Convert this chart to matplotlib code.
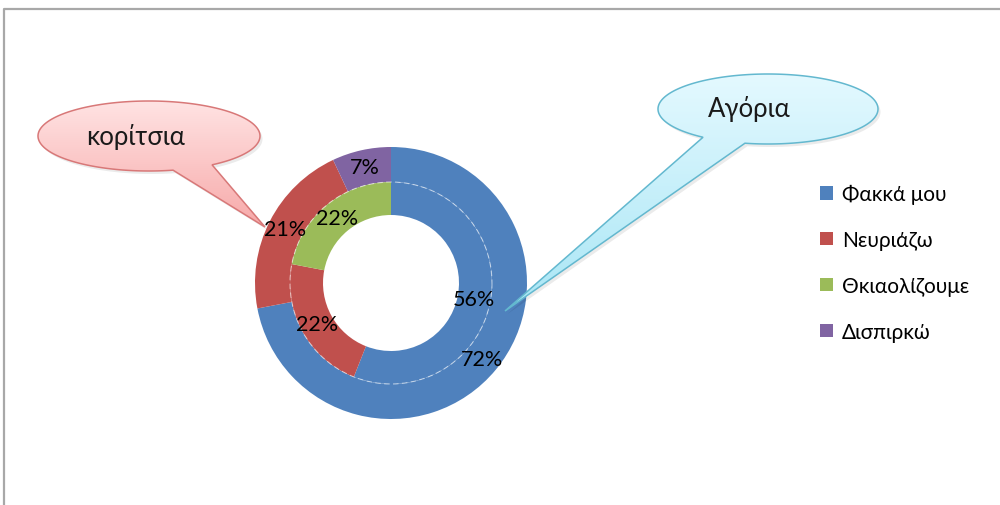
import numpy as np
import matplotlib
matplotlib.use("Agg")
import matplotlib.pyplot as plt
from matplotlib.patches import Polygon, Arc
from matplotlib.colors import LinearSegmentedColormap

# Data
categories = ["Φακκά μου", "Νευριάζω", "Θκιαολίζουμε", "Δισπιρκώ"]
outer_values = [72, 21, 0, 7]
inner_values = [56, 22, 22, 0]
colors = ["#4F81BD", "#C0504D", "#9BBB59", "#8064A2"]
callout_texts = ["κορίτσια", "Αγόρια"]

plt.rcParams["font.family"] = ["Lato", "Open Sans", "DejaVu Sans"]

fig = plt.figure(figsize=(10, 5.06), dpi=100)
ax = fig.add_axes([0, 0, 1, 1])

cx, cy = 391, 284
r_out, r_mid, r_in = 136, 101, 68


def pct(p):
    return f"{p:.0f}%" if p > 0.5 else ""


label_style = dict(fontsize=15.5, color="black")

wedges_out, _, texts_out = ax.pie(
    outer_values, radius=r_out, center=(cx, cy), startangle=-90,
    counterclock=True, colors=colors, autopct=pct,
    pctdistance=(r_out + r_mid) / 2 / r_out,
    wedgeprops=dict(width=r_out - r_mid, edgecolor="none", linewidth=0),
    textprops=label_style)
wedges_in, _, texts_in = ax.pie(
    inner_values, radius=r_mid, center=(cx, cy), startangle=-90,
    counterclock=True, colors=colors, autopct=pct,
    pctdistance=(r_mid + r_in) / 2 / r_mid,
    wedgeprops=dict(width=r_mid - r_in, edgecolor="none", linewidth=0),
    textprops=label_style)
for t in texts_out + texts_in:
    t.set_zorder(8)

# faint dashed seam between the two rings
ax.add_patch(Arc((cx, cy), 2 * r_mid, 2 * r_mid, color="white", alpha=0.55,
                 linewidth=0.8, linestyle=(0, (5, 3)), zorder=2))


def callout(ex, ey, a, b, t1, t2, tip, c_top, c_bot, edge, text, tx, ty):
    t = np.radians(np.linspace(t1, t2 + 360, 300))
    pts = np.column_stack([ex + a * np.cos(t), ey + b * np.sin(t)])
    pts = np.vstack([pts, tip])
    shadow = Polygon(pts + np.array([2.5, 3.0]), closed=True,
                     facecolor="#000000", alpha=0.08, edgecolor="none", zorder=3)
    ax.add_patch(shadow)
    poly = Polygon(pts, closed=True, facecolor="none", edgecolor=edge,
                   linewidth=1.1, zorder=6)
    ax.add_patch(poly)
    xs, ys = pts[:, 0], pts[:, 1]
    grad = np.linspace(0, 1, 256).reshape(-1, 1)
    cmap = LinearSegmentedColormap.from_list("fill", [c_top, c_bot])
    im = ax.imshow(grad, cmap=cmap, origin="upper", aspect="auto",
                   extent=(xs.min(), xs.max(), ys.max(), ys.min()),
                   interpolation="bilinear", zorder=5)
    im.set_clip_path(poly)
    ax.text(tx, ty, text, fontsize=18.5, ha="center", va="center",
            color="#1a1a1a", zorder=7)


callout(149, 137, 111, 35, 77.5, 55.4, (265, 228),
        "#FFE3E3", "#F7A9A9", "#D87878", callout_texts[0], 136, 137)
callout(768, 110, 110, 35, 126.2, 102.1, (505, 312),
        "#E4F9FF", "#A9E6F5", "#63B8CF", callout_texts[1], 749, 109)

# Chart area border
ax.plot([4, 4, 1000], [506, 10, 10], color="#A8A8A8", linewidth=1.6,
        solid_capstyle="butt", zorder=2)

ax.legend(wedges_out, categories, loc="upper left",
          bbox_to_anchor=(0.820, 1 - 185 / 506), frameon=False,
          fontsize=15, handlelength=0.62, handleheight=0.62,
          handletextpad=0.42, labelspacing=1.24, borderpad=0,
          borderaxespad=0)

ax.set_xlim(0, 1000)
ax.set_ylim(506, 0)
ax.set_aspect("equal")
ax.axis("off")

fig.savefig("out.png", dpi=100)
